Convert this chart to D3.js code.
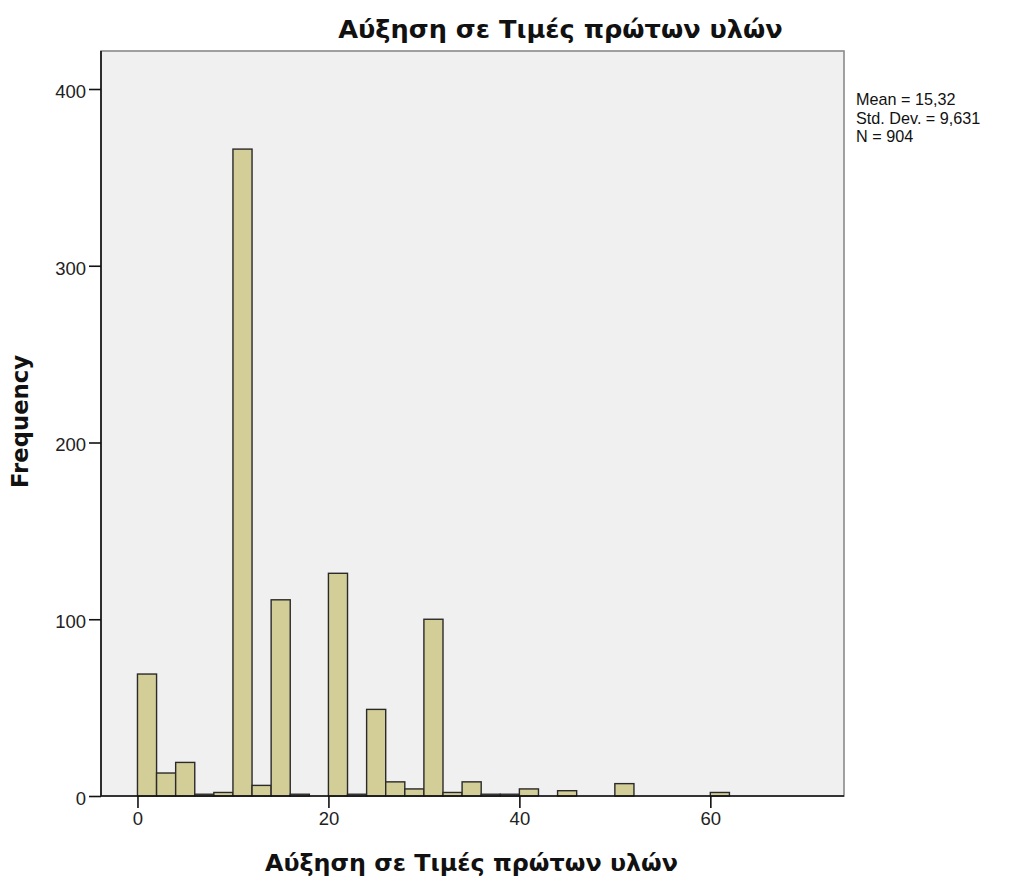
<!DOCTYPE html>
<html>
<head>
<meta charset="utf-8">
<script src="https://cdn.jsdelivr.net/npm/d3@7"></script>
<style>
  html, body { margin: 0; padding: 0; background: #ffffff; }
  svg { display: block; }
</style>
</head>
<body>
<svg id="chart" width="1010" height="882"></svg>
<script>
// Histogram of price increases for raw materials (bins of width 2)
const binStarts = [0, 2, 4, 6, 8, 10, 12, 14, 16, 18, 20, 22, 24, 26, 28, 30, 32, 34, 36, 38, 40, 42, 44, 46, 48, 50, 52, 54, 56, 58, 60];
const counts    = [69, 13, 19, 1, 2, 366, 6, 111, 1, 0, 126, 1, 49, 8, 4, 100, 2, 8, 1, 1, 4, 0, 3, 0, 0, 7, 0, 0, 0, 0, 2];
const binWidth = 2;
const xTicks = [0, 20, 40, 60];
const yTicks = [0, 100, 200, 300, 400];
const titleText = "Αύξηση σε Τιμές πρώτων υλών";
const xLabel = "Αύξηση σε Τιμές πρώτων υλών";
const yLabel = "Frequency";
const statsLines = ["Mean = 15,32", "Std. Dev. = 9,631", "N = 904"];

const svg = d3.select("#chart");
const plot = { left: 101, right: 844, top: 51, bottom: 796 };

const x = d3.scaleLinear().domain([-3.82, 74]).range([plot.left, plot.right]);
const y = d3.scaleLinear().domain([0, 421.5]).range([plot.bottom, plot.top]);

// plot background and frame
svg.append("rect")
  .attr("x", plot.left).attr("y", plot.top)
  .attr("width", plot.right - plot.left).attr("height", plot.bottom - plot.top)
  .attr("fill", "#f0f0f0")
  .attr("stroke", "#8a8a8a").attr("stroke-width", 1.6);

// bars
const bins = binStarts.map((s, i) => ({ x0: s, x1: s + binWidth, n: counts[i] }))
  .filter(d => d.n > 0);
svg.append("g").selectAll("rect").data(bins).join("rect")
  .attr("x", d => x(d.x0))
  .attr("y", d => y(d.n))
  .attr("width", d => x(d.x1) - x(d.x0))
  .attr("height", d => y(0) - y(d.n))
  .attr("fill", "#d3ce97")
  .attr("stroke", "#2a2a2a")
  .attr("stroke-width", 1.4);

// axes
const axisFont = "'Liberation Sans', Arial, sans-serif";
const gx = svg.append("g").attr("transform", `translate(0,${plot.bottom})`)
  .call(d3.axisBottom(x).tickValues(xTicks).tickFormat(d3.format("d")).tickSize(12).tickSizeOuter(0).tickPadding(4));
const gy = svg.append("g").attr("transform", `translate(${plot.left},0)`)
  .call(d3.axisLeft(y).tickValues(yTicks).tickFormat(d3.format("d")).tickSize(12).tickSizeOuter(0).tickPadding(3));
[gx, gy].forEach(g => {
  g.select(".domain").attr("stroke", "#111").attr("stroke-width", 1.6);
  g.selectAll(".tick line").attr("stroke", "#111").attr("stroke-width", 1.6);
  g.selectAll(".tick text").attr("fill", "#222")
    .style("font-family", axisFont).style("font-size", "18.5px");
});
// axis lines span the whole plot
gx.select(".domain").attr("d", `M${plot.left},0H${plot.right}`);
gy.select(".domain").attr("d", `M0,${plot.top}V${plot.bottom}`);
gy.selectAll(".tick text").attr("dy", "0.45em");

// text helper: scale font size so the text spans a given width
function fitText(sel, width) {
  const base = 20;
  sel.style("font-size", base + "px");
  const len = sel.node().getComputedTextLength();
  sel.style("font-size", (base * width / len) + "px");
  return sel;
}

const labelFont = "'DejaVu Sans', Verdana, sans-serif";

fitText(svg.append("text")
  .attr("x", 560.5).attr("y", 38)
  .attr("text-anchor", "middle")
  .style("font-family", labelFont).style("font-weight", "bold")
  .attr("fill", "#111")
  .text(titleText), 445);

fitText(svg.append("text")
  .attr("x", 471.5).attr("y", 871)
  .attr("text-anchor", "middle")
  .style("font-family", labelFont).style("font-weight", "bold")
  .attr("fill", "#111")
  .text(xLabel), 413);

fitText(svg.append("text")
  .attr("transform", "translate(28,421.5) rotate(-90)")
  .attr("text-anchor", "middle")
  .style("font-family", labelFont).style("font-weight", "bold")
  .attr("fill", "#111")
  .text(yLabel), 133);

// summary statistics
svg.append("g").selectAll("text").data(statsLines).join("text")
  .attr("x", 856)
  .attr("y", (d, i) => 105 + i * 18.6)
  .style("font-family", axisFont).style("font-size", "16.2px")
  .attr("fill", "#111")
  .text(d => d);
</script>
</body>
</html>
